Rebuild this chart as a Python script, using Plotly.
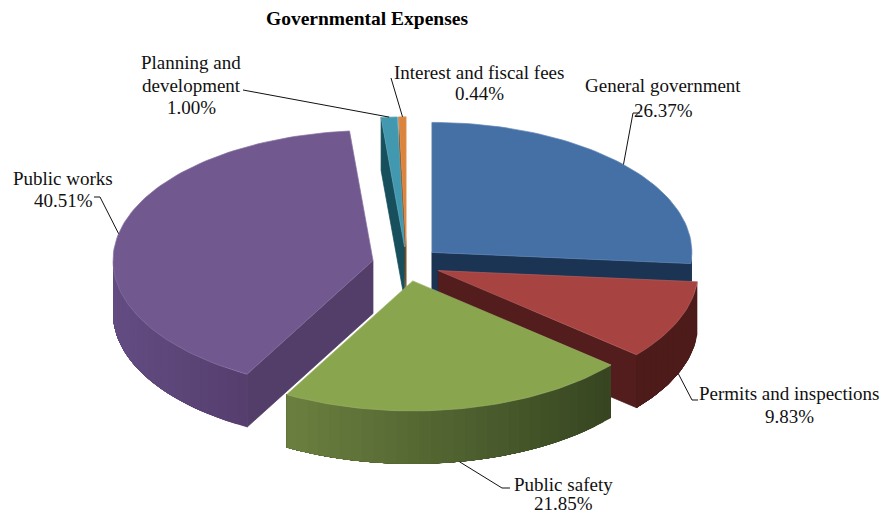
import math
import plotly.graph_objects as go

# Expense shares, clockwise from twelve o'clock
categories = ["General government", "Permits and inspections", "Public safety",
              "Public works", "Planning and development", "Interest and fiscal fees"]
shares = [26.37, 9.83, 21.85, 40.51, 1.00, 0.44]

# Colours: top face, cut face, outer wall at its left and right ends
top_colors = ["#4570a6", "#a74340", "#89a54e", "#71588f", "#4198af", "#db843d"]
cut_colors = ["#1b3454", "#521d1c", "#3f4f22", "#533e6a", "#174f5d", "#8a4f1a"]
wall_left = ["#1c3350", "#4d1c1a", "#6b8040", "#634c82", "#1f5f70", "#8a4f1a"]
wall_right = ["#1c3350", "#4d1c1a", "#364520", "#553f6e", "#1f5f70", "#8a4f1a"]

# Label layout: text lines, centre x, the y of each line, then the leader elbow
label_names = [["General government"], ["Permits and inspections"], ["Public safety"],
               ["Public works"], ["Planning and", "development"], ["Interest and fiscal fees"]]
label_x = [663, 789, 563, 63, 191, 479]
label_y = [[85, 110], [393, 416], [484, 503.5], [178, 200], [62, 85, 107], [72, 93]]
elbow_xy = [[(633, 113), (640, 113)], [(692, 400), (698, 400)], [(502, 488), (510, 488)],
            [(100, 197), (94, 197)], [(245, 90), (243, 90)], [(391, 78), (391, 78)]]

# Projection of the tilted pie
CX, CY = 406.6, 264.0
RX, RY = 260.0, 130.0
DEPTH = 53.0
EXPLODE = 0.132
DRAW_ORDER = [5, 4, 0, 3, 1, 2]


def blend(a, b, t):
    ca = [int(a[i:i + 2], 16) for i in (1, 3, 5)]
    cb = [int(b[i:i + 2], 16) for i in (1, 3, 5)]
    return "#" + "".join(f"{round(p + (q - p) * t):02x}" for p, q in zip(ca, cb))


def rim(ax, ay, deg):
    r = math.radians(deg)
    return ax + RX * math.sin(r), ay - RY * math.cos(r)


def polygon(xs, ys, color, line=None, width=0.7):
    return go.Scatter(x=xs, y=ys, mode="lines", fill="toself", fillcolor=color,
                      line=dict(color=line or color, width=width), hoverinfo="skip",
                      showlegend=False)


# Angular extent and apex of each exploded slice
spans, apexes = [], []
running = 0.0
for share in shares:
    start = running * 3.6
    end = (running + share) * 3.6
    mid = math.radians((start + end) / 2)
    spans.append((start, end))
    apexes.append((CX + EXPLODE * RX * math.sin(mid), CY - EXPLODE * RY * math.cos(mid)))
    running += share

fig = go.Figure()

for i in DRAW_ORDER:
    start, end = spans[i]
    ax, ay = apexes[i]

    # Radial cut faces that turn towards the viewer
    for deg, visible in ((start, math.sin(math.radians(start)) < 0),
                         (end, math.sin(math.radians(end)) > 0)):
        if visible:
            ox, oy = rim(ax, ay, deg)
            fig.add_trace(polygon([ax, ox, ox, ax, ax],
                                  [ay, oy, oy + DEPTH, ay + DEPTH, ay], cut_colors[i]))

    # Outer wall: overlapping strips, each reaching to the far end of the wall,
    # so the shade runs across it without seams
    lo, hi = max(start, 90.0), min(end, 270.0)
    if hi > lo:
        steps = max(2, int((hi - lo) / 2.5))
        x_min = min(rim(ax, ay, lo)[0], rim(ax, ay, hi)[0])
        x_max = max(rim(ax, ay, lo)[0], rim(ax, ay, hi)[0])
        for s in range(steps):
            d0 = lo + (hi - lo) * s / steps
            arc = [d0 + (hi - d0) * k / 24 for k in range(25)]
            pts = [rim(ax, ay, d) for d in arc]
            xs = [p[0] for p in pts] + [p[0] for p in reversed(pts)] + [pts[0][0]]
            ys = [p[1] for p in pts] + [p[1] + DEPTH for p in reversed(pts)] + [pts[0][1]]
            t = (rim(ax, ay, d0 + (hi - lo) / steps / 2)[0] - x_min) / max(x_max - x_min, 1)
            fig.add_trace(polygon(xs, ys, blend(wall_left[i], wall_right[i], t), width=0))

    # Top face
    n = max(3, int((end - start) / 1.5))
    pts = [rim(ax, ay, start + (end - start) * k / n) for k in range(n + 1)]
    xs = [ax] + [p[0] for p in pts] + [ax]
    ys = [ay] + [p[1] for p in pts] + [ay]
    fig.add_trace(polygon(xs, ys, top_colors[i], line=blend(top_colors[i], "#ffffff", 0.15)))

# Leader lines start on the rim at each slice's mid angle
for i in range(len(shares)):
    start, end = spans[i]
    mid = (start + end) / 2
    px, py = rim(*apexes[i], mid)
    if 90 < mid < 270:
        py += DEPTH
    xs = [px] + [p[0] for p in elbow_xy[i]]
    ys = [py] + [p[1] for p in elbow_xy[i]]
    fig.add_trace(go.Scatter(x=xs, y=ys, mode="lines", line=dict(color="#111111", width=1),
                             hoverinfo="skip", showlegend=False))

# Each label line is placed on its own to control the line spacing
for i in range(len(shares)):
    lines = label_names[i] + [f"{shares[i]:.2f}%"]
    for text, y in zip(lines, label_y[i]):
        fig.add_annotation(x=label_x[i], y=y, text=text, showarrow=False,
                           xref="x", yref="y", xanchor="center", yanchor="middle",
                           font=dict(family="Liberation Serif", size=19, color="#111111"))

fig.add_annotation(x=367, y=18, text="<b>Governmental Expenses</b>", showarrow=False,
                   xref="x", yref="y", xanchor="center", yanchor="middle",
                   font=dict(family="Liberation Serif", size=19.5, color="#000000"))

fig.update_layout(width=882, height=516, margin=dict(l=0, r=0, t=0, b=0),
                  paper_bgcolor="white", plot_bgcolor="white", showlegend=False,
                  hovermode=False,
                  xaxis=dict(range=[0, 882], visible=False, fixedrange=True),
                  yaxis=dict(range=[516, 0], visible=False, fixedrange=True))

fig.write_html("out.html", config=dict(displayModeBar=False))
